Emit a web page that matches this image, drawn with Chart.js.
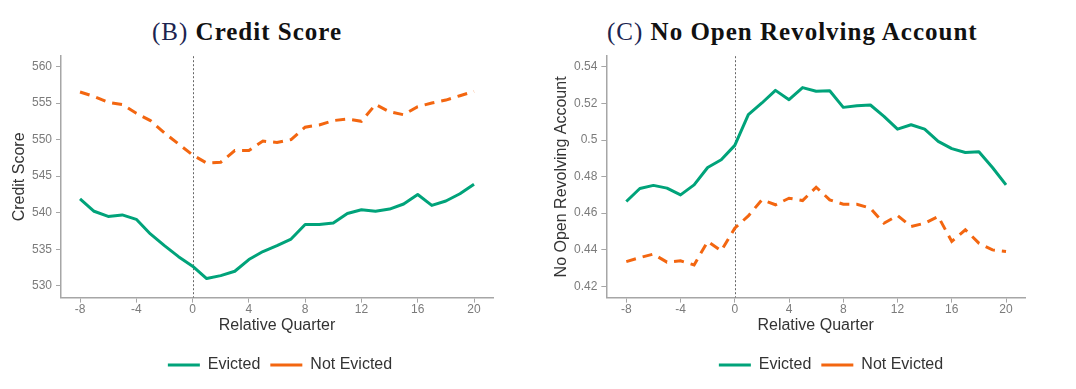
<!DOCTYPE html>
<html>
<head>
<meta charset="utf-8">
<script src="https://cdn.jsdelivr.net/npm/chart.js@4/dist/chart.umd.min.js"></script>
<style>
  html, body { margin: 0; padding: 0; background: #fff; overflow: hidden; width: 1076px; height: 389px; }
  .panel { position: absolute; top: 45px; height: 344px; }
  .ttl { position: absolute; top: 18px; font-family: "Liberation Serif", serif; font-size: 25px; letter-spacing: 1px; font-weight: bold; color: #111; white-space: nowrap; }
  .ttl span { font-weight: normal; color: #1c2450; }
</style>
</head>
<body>
<div class="ttl" id="t1" style="left:152px"><span>(B)</span> Credit Score</div>
<div class="ttl" id="t2" style="left:607px"><span>(C)</span> No Open Revolving Account</div>
<div class="panel" style="left:0px;width:530px"><canvas id="chartB"></canvas></div>
<div class="panel" style="left:540px;width:536px"><canvas id="chartC"></canvas></div>
<script>
const quarters = [-8, -7, -6, -5, -4, -3, -2, -1, 0, 1, 2, 3, 4, 5, 6, 7, 8, 9, 10, 11, 12, 13, 14, 15, 16, 17, 18, 19, 20];
const xTicks = [-8, -4, 0, 4, 8, 12, 16, 20];

const creditEvicted = [541.9, 540.2, 539.5, 539.7, 539.1, 537.1, 535.5, 534.0, 532.7, 531.0, 531.4, 532.0, 533.6, 534.7, 535.5, 536.4, 538.4, 538.4, 538.6, 539.9, 540.4, 540.2, 540.5, 541.2, 542.5, 541.0, 541.6, 542.6, 543.9];
const creditNotEvicted = [556.5, 555.9, 555.1, 554.8, 553.6, 552.6, 550.9, 549.4, 547.9, 546.8, 546.9, 548.5, 548.5, 549.8, 549.6, 550.0, 551.7, 552.0, 552.6, 552.8, 552.5, 554.8, 553.8, 553.4, 554.5, 555.0, 555.4, 556.0, 556.6];
const creditTicks = [530, 535, 540, 545, 550, 555, 560];

const revEvicted = [0.4664, 0.4735, 0.4752, 0.4737, 0.4700, 0.4755, 0.4850, 0.4892, 0.4971, 0.5139, 0.5203, 0.5272, 0.5221, 0.5287, 0.5267, 0.5270, 0.5179, 0.5188, 0.5192, 0.5130, 0.5060, 0.5084, 0.5060, 0.4993, 0.4953, 0.4932, 0.4936, 0.4850, 0.4755];
const revNotEvicted = [0.4335, 0.4357, 0.4376, 0.4332, 0.4339, 0.4317, 0.4445, 0.4394, 0.4518, 0.4585, 0.4673, 0.4646, 0.4682, 0.4669, 0.4742, 0.4673, 0.4649, 0.4649, 0.4627, 0.4545, 0.4587, 0.4527, 0.4545, 0.4582, 0.4445, 0.4509, 0.4436, 0.4399, 0.4390];
const revTicks = [0.42, 0.44, 0.46, 0.48, 0.5, 0.52, 0.54];

const seriesNames = ['Evicted', 'Not Evicted'];
const green = 'rgb(0,163,122)';
const orange = 'rgb(243,102,16)';
const axisGray = '#a6a6a6';
const tickGray = '#7b7b7b';

Chart.defaults.font.family = '"Liberation Sans", Arial, sans-serif';

// dotted vertical line at quarter 0
const zeroLine = {
  id: 'zeroLine',
  beforeDatasetsDraw(chart) {
    const { ctx, chartArea, scales } = chart;
    const x = Math.round(scales.x.getPixelForValue(0)) + 0.5;
    ctx.save();
    ctx.strokeStyle = '#666';
    ctx.lineWidth = 1;
    ctx.setLineDash([2, 2]);
    ctx.beginPath();
    ctx.moveTo(x, chartArea.top);
    ctx.lineTo(x, chartArea.bottom);
    ctx.stroke();
    ctx.restore();
  }
};

// move the legend so it is centred where the original one is
const legendShift = {
  id: 'legendShift',
  afterLayout(chart, args, opts) {
    const l = chart.legend;
    if (!l || opts.center == null) return;
    const d = opts.center - (l.left + l.right) / 2;
    l.left += d;
    l.right += d;
  }
};

function makeChart(id, yTitle, evicted, notEvicted, yTicks, xr, yr, pad, legendCenter) {
  const ctx = document.getElementById(id).getContext('2d');
  return new Chart(ctx, {
    type: 'line',
    data: {
      datasets: [{
        label: seriesNames[0],
        data: quarters.map((q, i) => ({ x: q, y: evicted[i] })),
        borderColor: green,
        backgroundColor: green,
        borderWidth: 3,
        pointRadius: 0,
        pointStyle: 'line',
        tension: 0,
        borderJoinStyle: 'round'
      }, {
        label: seriesNames[1],
        data: quarters.map((q, i) => ({ x: q, y: notEvicted[i] })),
        borderColor: orange,
        backgroundColor: orange,
        borderWidth: 3,
        borderDash: [10, 7],
        pointRadius: 0,
        pointStyle: 'line',
        tension: 0
      }]
    },
    options: {
      responsive: true,
      maintainAspectRatio: false,
      animation: false,
      layout: { padding: pad },
      plugins: {
        legend: {
          position: 'bottom',
          labels: {
            usePointStyle: true,
            pointStyleWidth: 32,
            boxHeight: 16,
            color: '#333',
            font: { size: 16 },
            padding: 10
          }
        },
        legendShift: { center: legendCenter },
        tooltip: { enabled: false }
      },
      scales: {
        x: {
          type: 'linear',
          min: xr[0],
          max: xr[1],
          afterBuildTicks: s => { s.ticks = xTicks.map(v => ({ value: v })); },
          ticks: { color: tickGray, font: { size: 12 }, padding: 0, maxRotation: 0 },
          grid: { display: true, drawOnChartArea: false, drawTicks: true, tickLength: 5, color: axisGray, lineWidth: 1 },
          border: { display: true, color: axisGray, width: 1.5 },
          title: { display: true, text: 'Relative Quarter', color: '#333', font: { size: 16, lineHeight: 1 }, padding: { top: 1, bottom: 13 } }
        },
        y: {
          min: yr[0],
          max: yr[1],
          afterBuildTicks: s => { s.ticks = yTicks.map(v => ({ value: v })); },
          ticks: { color: tickGray, font: { size: 12 }, padding: 4, callback: v => String(v) },
          grid: { display: true, drawOnChartArea: false, drawTicks: true, tickLength: 5, color: axisGray, lineWidth: 1 },
          border: { display: true, color: axisGray, width: 1.5 },
          title: { display: true, text: yTitle, color: '#333', font: { size: 16, lineHeight: 1 }, padding: 0 }
        }
      }
    },
    plugins: [zeroLine, legendShift]
  });
}

makeChart('chartB', 'Credit Score', creditEvicted, creditNotEvicted, creditTicks,
  [-9.35, 21.35], [528.4, 561.4], { left: 12, right: 37, top: 10, bottom: 6 }, 280);
makeChart('chartC', 'No Open Revolving Account', revEvicted, revNotEvicted, revTicks,
  [-9.47, 21.4], [0.4138, 0.5459], { left: 14, right: 51, top: 10, bottom: 6 }, 291);
</script>
</body>
</html>
